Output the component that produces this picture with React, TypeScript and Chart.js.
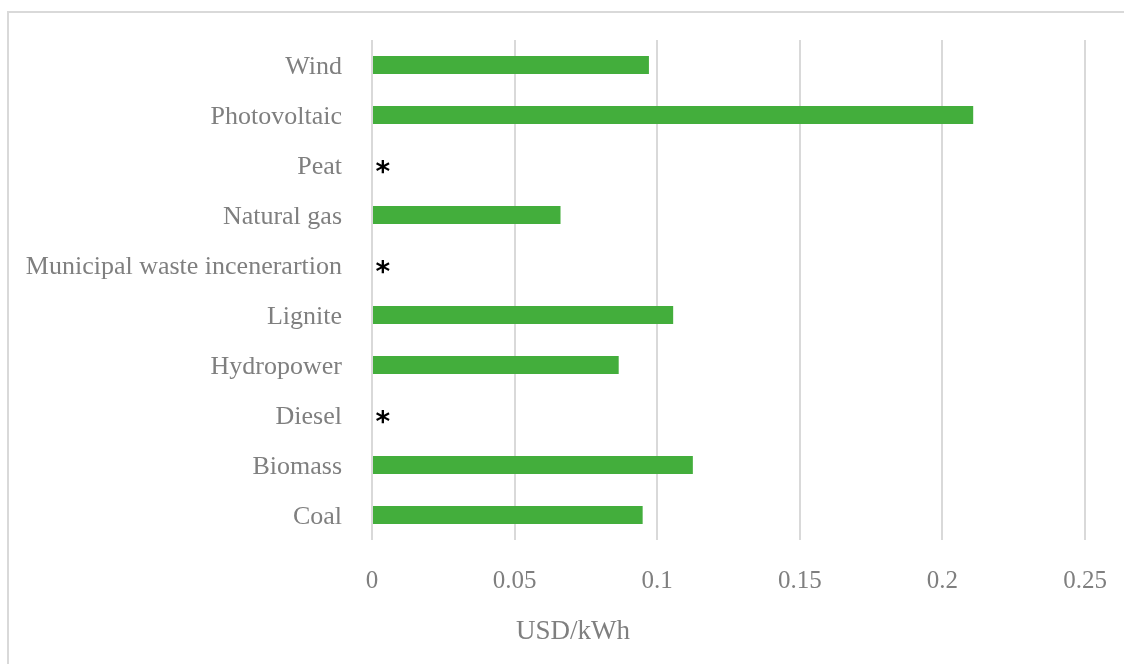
import React, { useEffect, useRef } from "react";
import { Chart, registerables } from "chart.js";

Chart.register(...registerables);

const categories = [
  "Wind",
  "Photovoltaic",
  "Peat",
  "Natural gas",
  "Municipal waste incenerartion",
  "Lignite",
  "Hydropower",
  "Diesel",
  "Biomass",
  "Coal",
];
const costUsdPerKwh = [0.0971, 0.2108, 0, 0.0661, 0, 0.1056, 0.0865, 0, 0.1125, 0.0949];
const notes = ["", "", "*", "", "*", "", "", "*", "", ""];
const xTicks = [0, 0.05, 0.1, 0.15, 0.2, 0.25];
const axisTitle = "USD/kWh";

const SERIF = "'Liberation Serif', 'Times New Roman', serif";
const GRAY = "#7f7f7f";
const GRID = "#d9d9d9";
const GREEN = "#43ae3c";

const decorPlugin = {
  id: "decor",
  beforeDraw(chart: any) {
    const ctx = chart.ctx;
    ctx.save();
    ctx.strokeStyle = GRID;
    ctx.lineWidth = 2;
    ctx.strokeRect(8, 12, 1300, 800);
    ctx.restore();
  },
  afterDraw(chart: any) {
    const ctx = chart.ctx;
    const xs = chart.scales.x;
    const ys = chart.scales.y;
    ctx.save();
    // asterisk notes
    ctx.fillStyle = "#000000";
    ctx.font = "bold 28px 'DejaVu Sans', sans-serif";
    ctx.textBaseline = "alphabetic";
    ctx.textAlign = "left";
    notes.forEach((n, i) => {
      if (!n) return;
      const m = ctx.measureText(n);
      const cy = ys.getPixelForValue(i) + 2;
      const x0 = xs.getPixelForValue(0) + 3.5;
      const base = cy + (m.actualBoundingBoxAscent - m.actualBoundingBoxDescent) / 2;
      ctx.fillText(n, x0 + m.actualBoundingBoxLeft, base);
    });
    // axis title centered on whole chart frame
    ctx.fillStyle = GRAY;
    ctx.font = `27px ${SERIF}`;
    ctx.textAlign = "center";
    ctx.textBaseline = "alphabetic";
    ctx.fillText(axisTitle, 573, 639);
    ctx.restore();
  },
};

export default function App() {
  const ref = useRef<HTMLCanvasElement | null>(null);
  useEffect(() => {
    if (!ref.current) return;
    const chart = new Chart(ref.current, {
      type: "bar",
      data: {
        labels: categories,
        datasets: [
          {
            label: axisTitle,
            data: costUsdPerKwh,
            backgroundColor: GREEN,
            borderWidth: 0,
            barPercentage: 0.6,
            categoryPercentage: 0.6,
          },
        ],
      },
      options: {
        indexAxis: "y",
        animation: false,
        responsive: false,
        devicePixelRatio: 1,
        layout: { autoPadding: false, padding: { left: 0, right: 39, top: 40, bottom: 0 } },
        plugins: {
          legend: { display: false },
          tooltip: { enabled: false },
        },
        scales: {
          x: {
            type: "linear",
            min: 0,
            max: 0.25,
            afterBuildTicks: (scale: any) => {
              scale.ticks = xTicks.map((v) => ({ value: v }));
            },
            afterFit: (scale: any) => {
              scale.height = 124;
              scale.paddingLeft = 0;
              scale.paddingRight = 0;
            },
            grid: { color: GRID, lineWidth: 2, drawTicks: false },
            border: { display: false },
            ticks: {
              color: GRAY,
              font: { family: SERIF, size: 25 },
              padding: 26,
              maxRotation: 0,
              callback: (v: any) => String(Number(v)),
            },
          },
          y: {
            type: "category",
            afterFit: (scale: any) => {
              scale.width = 372;
              scale.paddingTop = 0;
              scale.paddingBottom = 0;
            },
            grid: { display: false, drawTicks: false },
            border: { display: false },
            ticks: {
              color: GRAY,
              font: { family: SERIF, size: 26 },
              padding: 30,
              labelOffset: 2,
            },
          },
        },
      },
      plugins: [decorPlugin],
    });
    return () => chart.destroy();
  }, []);
  return (
    <div style={{ position: "absolute", left: 0, top: 0, width: 1124, height: 664, background: "#fff" }}>
      <canvas ref={ref} width={1124} height={664} />
    </div>
  );
}
